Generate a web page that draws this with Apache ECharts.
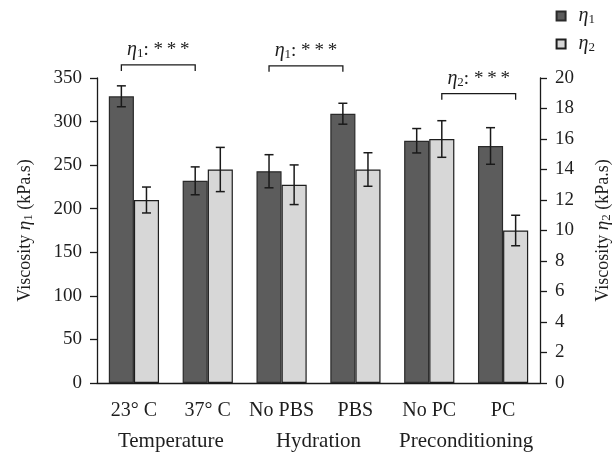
<!DOCTYPE html>
<html>
<head>
<meta charset="utf-8">
<script src="https://cdn.jsdelivr.net/npm/echarts@6/dist/echarts.min.js"></script>
<style>html,body{margin:0;padding:0;background:#fff}#c{width:614px;height:454px}</style>
</head>
<body>
<div id="c"></div>
<script>
const categories = ['23° C', '37° C', 'No PBS', 'PBS', 'No PC', 'PC'];
const groups = ['Temperature', 'Hydration', 'Preconditioning'];
const eta1 = [329, 232, 243, 309, 278, 272];
const eta1Err = [12, 16, 19, 12, 14, 21];
const eta2 = [12, 14, 13, 14, 16, 10];
const eta2Err = [0.85, 1.45, 1.3, 1.1, 1.2, 1.0];
const leftAxis = { min: 0, max: 350, interval: 50 };
const rightAxis = { min: 0, max: 20, interval: 2 };
// brackets: [catA, catB, level (left-axis units), side 0=η1 / 1=η2, label index]
const brackets = [[0, 1, 365, 0, 0], [2, 3, 364, 0, 0], [4, 5, 332, 1, 1]];
const bracketLabels = ['{i|η}{s|1}{n|: *\u2009*\u2009*}', '{i|η}{s|2}{n|: *\u2009*\u2009*}'];

const FONT = 'Liberation Serif';
const TXT = '#1e1e1e';
const GAP = 0.32;
function mkRich(fs) {
  return {
    i: { fontFamily: FONT, fontStyle: 'italic', fontSize: fs + 1, lineHeight: 20, color: TXT },
    s: { fontFamily: FONT, fontSize: Math.round(fs * 0.7), lineHeight: 10, verticalAlign: 'bottom', color: TXT },
    n: { fontFamily: FONT, fontSize: fs, lineHeight: 20, color: TXT }
  };
}
const rich = mkRich(19);
const richTitle = mkRich(18);

function errSeries(vals, errs, side, yIdx) {
  return {
    type: 'custom', yAxisIndex: yIdx, z: 5, silent: true,
    data: vals.map((v, k) => [k, v - errs[k], v + errs[k]]),
    encode: { x: 0, y: [1, 2] },
    renderItem(params, api) {
      const band = api.size([1, 0])[0];
      const bw = band * (1 - GAP) / 2;
      const off = side === 0 ? -bw / 2 : bw / 2;
      const lo = api.coord([api.value(0), api.value(1)]);
      const hi = api.coord([api.value(0), api.value(2)]);
      const x = lo[0] + off, cw = 4.5;
      const st = { stroke: '#1a1a1a', lineWidth: 1.5 };
      return { type: 'group', children: [
        { type: 'line', shape: { x1: x, y1: lo[1], x2: x, y2: hi[1] }, style: st },
        { type: 'line', shape: { x1: x - cw, y1: lo[1], x2: x + cw, y2: lo[1] }, style: st },
        { type: 'line', shape: { x1: x - cw, y1: hi[1], x2: x + cw, y2: hi[1] }, style: st }
      ]};
    }
  };
}

const chart = echarts.init(document.getElementById('c'), null, { renderer: 'canvas' });
chart.setOption({
  animation: false,
  textStyle: { fontFamily: FONT, color: TXT },
  grid: { left: 97, right: 74, top: 78, bottom: 71, containLabel: false, outerBoundsMode: 'none' },
  legend: {
    orient: 'vertical', right: 14, top: 1, itemWidth: 9, itemHeight: 9, itemGap: 8,
    icon: 'rect',
    data: ['eta1', 'eta2'],
    formatter: n => n === 'eta1' ? '{i|η}{s|1}' : '{i|η}{s|2}',
    textStyle: { rich: rich, padding: [0, 0, 0, 8] }
  },
  xAxis: [{
    type: 'category', data: categories, position: 'bottom',
    axisLine: { lineStyle: { color: '#1a1a1a', width: 1.3 } },
    axisTick: { length: 7, lineStyle: { color: '#1a1a1a', width: 1.3 } },
    axisLabel: { interval: 0, fontFamily: FONT, fontSize: 20, color: TXT, margin: 18 }
  }, {
    type: 'category', data: groups, position: 'bottom', offset: 31,
    axisLine: { show: false }, axisTick: { show: false },
    axisLabel: { interval: 0, fontFamily: FONT, fontSize: 21, color: TXT, margin: 17 }
  }],
  yAxis: [{
    type: 'value', min: leftAxis.min, max: leftAxis.max, interval: leftAxis.interval,
    position: 'left',
    name: 'Viscosity {i|η}{s|1} (kPa.s)', nameLocation: 'middle', nameRotate: 90, nameGap: 62,
    nameTextStyle: { fontFamily: FONT, fontSize: 18, color: TXT, rich: richTitle },
    splitLine: { show: false },
    axisLine: { show: true, lineStyle: { color: '#1a1a1a', width: 1.3 } },
    axisTick: { show: true, length: 7, lineStyle: { color: '#1a1a1a', width: 1.3 } },
    axisLabel: { fontFamily: FONT, fontSize: 19, color: TXT, margin: 15 }
  }, {
    type: 'value', min: rightAxis.min, max: rightAxis.max, interval: rightAxis.interval,
    position: 'right',
    name: 'Viscosity {i|η}{s|2} (kPa.s)', nameLocation: 'middle', nameRotate: 90, nameGap: 53,
    nameTextStyle: { fontFamily: FONT, fontSize: 18, color: TXT, rich: richTitle, verticalAlign: 'top' },
    splitLine: { show: false },
    axisLine: { show: true, lineStyle: { color: '#1a1a1a', width: 1.3 } },
    axisTick: { show: true, length: 7, lineStyle: { color: '#1a1a1a', width: 1.3 } },
    axisLabel: { fontFamily: FONT, fontSize: 19, color: TXT, margin: 15 }
  }],
  series: [{
    name: 'eta1', type: 'bar', data: eta1, yAxisIndex: 0, barGap: '0%', barCategoryGap: (GAP * 100) + '%',
    itemStyle: { color: '#5c5c5c', borderColor: '#2a2a2a', borderWidth: 1.2 }
  }, {
    name: 'eta2', type: 'bar', data: eta2, yAxisIndex: 1, barGap: '0%', barCategoryGap: (GAP * 100) + '%',
    itemStyle: { color: '#d7d7d7', borderColor: '#1e1e1e', borderWidth: 1.2 }
  },
  errSeries(eta1, eta1Err, 0, 0),
  errSeries(eta2, eta2Err, 1, 1),
  {
    type: 'custom', yAxisIndex: 0, z: 6, silent: true, clip: false,
    data: brackets, encode: { x: 0, y: 2 },
    renderItem(params, api) {
      const band = api.size([1, 0])[0];
      const bw = band * (1 - GAP) / 2;
      const side = api.value(3);
      const off = side === 0 ? -bw / 2 : bw / 2;
      const pa = api.coord([api.value(0), api.value(2)]);
      const pb = api.coord([api.value(1), api.value(2)]);
      const xa = pa[0] + off, xb = pb[0] + off, y = pa[1];
      return { type: 'group', children: [
        { type: 'polyline', shape: { points: [[xa, y + 6], [xa, y], [xb, y], [xb, y + 6]] },
          style: { stroke: '#1a1a1a', lineWidth: 1.3, fill: null } },
        { type: 'text', x: (xa + xb) / 2, y: y - 5,
          style: { text: bracketLabels[api.value(4)], rich: rich, align: 'center', verticalAlign: 'bottom',
                   fontFamily: FONT, fontSize: 19, fill: TXT } }
      ]};
    }
  }]
});
</script>
</body>
</html>
